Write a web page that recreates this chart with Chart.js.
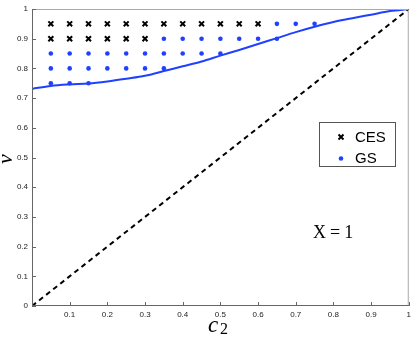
<!DOCTYPE html>
<html>
<head>
<meta charset="utf-8">
<script src="https://cdn.jsdelivr.net/npm/chart.js@4/dist/chart.umd.min.js"></script>
<style>
html,body{margin:0;padding:0;background:#fff;}
#wrap{width:415px;height:339px;position:relative;}
</style>
</head>
<body>
<div id="wrap"><canvas id="c" width="415" height="339"></canvas></div>
<script>
// CES points (crosses)
const cesX = [0.05,0.1,0.15,0.2,0.25,0.3,0.35,0.4,0.45,0.5,0.55,0.6,
              0.05,0.1,0.15,0.2,0.25,0.3];
const cesY = [0.95,0.95,0.95,0.95,0.95,0.95,0.95,0.95,0.95,0.95,0.95,0.95,
              0.9,0.9,0.9,0.9,0.9,0.9];

// GS points (dots)
const gsX = [0.65,0.7,0.75,
             0.35,0.4,0.45,0.5,0.55,0.6,0.65,
             0.05,0.1,0.15,0.2,0.25,0.3,0.35,0.4,0.45,0.5,
             0.05,0.1,0.15,0.2,0.25,0.3,0.35,
             0.05,0.1,0.15];
const gsY = [0.95,0.95,0.95,
             0.9,0.9,0.9,0.9,0.9,0.9,0.9,
             0.85,0.85,0.85,0.85,0.85,0.85,0.85,0.85,0.85,0.85,
             0.8,0.8,0.8,0.8,0.8,0.8,0.8,
             0.75,0.75,0.75];

// boundary curve
const curveX = [0,0.05,0.1,0.15,0.2,0.25,0.3,0.35,0.4,0.45,0.5,0.55,0.6,0.65,0.7,0.75,0.8,0.85,0.9,0.95,1];
const curveY = [0.731,0.741,0.746,0.749,0.756,0.765,0.775,0.791,0.807,0.823,0.843,0.862,0.882,0.902,0.922,0.940,0.956,0.969,0.981,0.993,1.0];

// diagonal
const diagX = [0,1];
const diagY = [0,1];

const tickVals = [0,0.1,0.2,0.3,0.4,0.5,0.6,0.7,0.8,0.9,1];

const toPts = (xs, ys) => xs.map((x, i) => ({x: x, y: ys[i]}));

const blue = "#2040ff";

const frame = {
    id: "frame",
    afterDraw(chart){
        const ctx = chart.ctx;
        const a = chart.chartArea;
        const xs = chart.scales.x, ys = chart.scales.y;
        ctx.save();
        // top/right border
        ctx.strokeStyle = "#aaaaaa";
        ctx.lineWidth = 1;
        ctx.beginPath();
        ctx.moveTo(a.left, a.top + 0.5);
        ctx.lineTo(a.right - 0.5, a.top + 0.5);
        ctx.lineTo(a.right - 0.5, a.bottom);
        ctx.stroke();
        // left/bottom axes
        ctx.strokeStyle = "#666666";
        ctx.beginPath();
        ctx.moveTo(a.left + 0.5, a.top);
        ctx.lineTo(a.left + 0.5, a.bottom - 0.5);
        ctx.lineTo(a.right, a.bottom - 0.5);
        ctx.stroke();
        // inside ticks
        ctx.beginPath();
        tickVals.forEach(v => {
            const px = Math.round(xs.getPixelForValue(v)) + 0.5;
            ctx.moveTo(px, a.bottom);
            ctx.lineTo(px, a.bottom - 4);
            const py = Math.round(ys.getPixelForValue(v)) + 0.5;
            ctx.moveTo(a.left, py);
            ctx.lineTo(a.left + 4, py);
        });
        ctx.stroke();

        // legend box
        ctx.fillStyle = "#fff";
        ctx.fillRect(319.5, 122.5, 76, 44);
        ctx.strokeStyle = "#555";
        ctx.strokeRect(319.5, 122.5, 76, 44);
        // cross marker
        ctx.strokeStyle = "#000";
        ctx.lineWidth = 2;
        ctx.beginPath();
        ctx.moveTo(338.5, 134.5); ctx.lineTo(343.5, 139.5);
        ctx.moveTo(343.5, 134.5); ctx.lineTo(338.5, 139.5);
        ctx.stroke();
        ctx.fillStyle = blue;
        ctx.beginPath();
        ctx.arc(341, 158.5, 2.3, 0, Math.PI * 2);
        ctx.fill();
        ctx.fillStyle = "#000";
        ctx.font = "15px 'Liberation Sans', Arial, sans-serif";
        ctx.textBaseline = "middle";
        ctx.textAlign = "left";
        ctx.fillText("CES", 355, 138);
        ctx.fillText("GS", 355, 159);

        // annotation
        ctx.font = "18px 'Liberation Serif', 'Times New Roman', serif";
        ctx.textBaseline = "alphabetic";
        ctx.letterSpacing = "4px";
        ctx.fillText("X=1", 313, 238);
        ctx.letterSpacing = "0px";

        // axis titles
        ctx.font = "italic 23px 'Liberation Serif', 'Times New Roman', serif";
        ctx.fillText("c", 208, 332);
        ctx.font = "16px 'Liberation Serif', 'Times New Roman', serif";
        ctx.fillText("2", 220, 334);

        ctx.translate(12, 159);
        ctx.rotate(-Math.PI / 2);
        ctx.textAlign = "center";
        ctx.font = "italic 22px 'Liberation Serif', 'Times New Roman', serif";
        ctx.fillText("v", 0, 0);
        ctx.restore();
    }
};

new Chart(document.getElementById("c"), {
    type: "scatter",
    data: {
        datasets: [
            {
                label: "diag",
                data: toPts(diagX, diagY),
                showLine: true,
                borderColor: "#000",
                borderWidth: 2,
                borderDash: [5, 4],
                pointRadius: 0
            },
            {
                label: "curve",
                data: toPts(curveX, curveY),
                showLine: true,
                borderColor: blue,
                borderWidth: 2,
                tension: 0.4,
                cubicInterpolationMode: "monotone",
                pointRadius: 0
            },
            {
                label: "CES",
                data: toPts(cesX, cesY),
                pointStyle: "crossRot",
                pointRadius: 3.5,
                borderColor: "#000",
                borderWidth: 2
            },
            {
                label: "GS",
                data: toPts(gsX, gsY),
                pointStyle: "circle",
                pointRadius: 2.3,
                backgroundColor: blue,
                borderColor: blue,
                borderWidth: 0
            }
        ]
    },
    options: {
        responsive: false,
        animation: false,
        maintainAspectRatio: false,
        devicePixelRatio: 1,
        layout: {padding: {top: 9, right: 5, left: 0, bottom: 0}},
        plugins: {legend: {display: false}, tooltip: {enabled: false}},
        scales: {
            x: {
                type: "linear",
                min: 0, max: 1,
                afterBuildTicks: s => { s.ticks = tickVals.map(v => ({value: v})); },
                afterFit: s => { s.height = 33; },
                grid: {display: false, drawTicks: false},
                border: {display: false},
                ticks: {
                    color: "#222",
                    padding: 4,
                    autoSkip: false,
                    maxRotation: 0,
                    font: {size: 8, family: "'Liberation Sans', Arial, sans-serif"},
                    callback: v => v === 0 ? "" : String(v)
                }
            },
            y: {
                type: "linear",
                min: 0, max: 1,
                afterBuildTicks: s => { s.ticks = tickVals.map(v => ({value: v})); },
                afterFit: s => { s.width = 32; },
                grid: {display: false, drawTicks: false},
                border: {display: false},
                ticks: {
                    color: "#222",
                    padding: 4,
                    autoSkip: false,
                    font: {size: 8, family: "'Liberation Sans', Arial, sans-serif"},
                    callback: v => String(v)
                }
            }
        }
    },
    plugins: [frame]
});
</script>
</body>
</html>
